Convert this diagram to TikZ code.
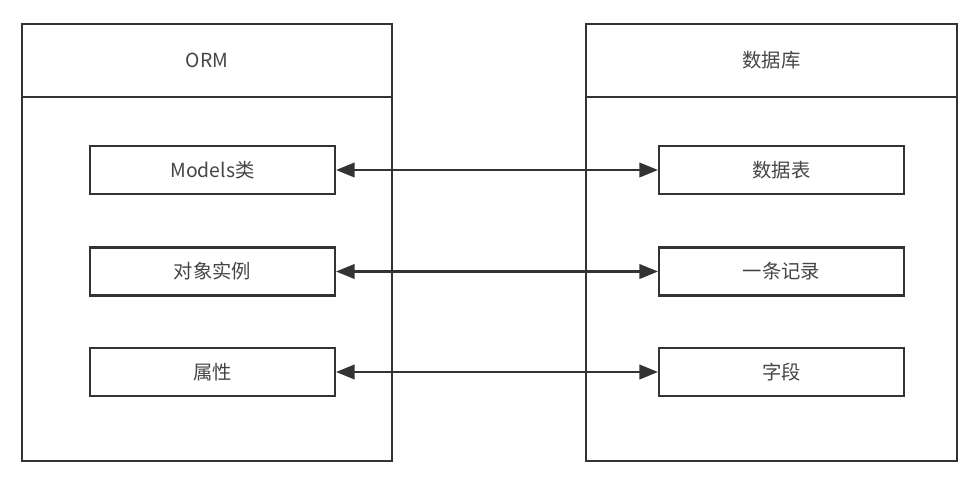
\documentclass[tikz,border=0pt]{standalone}
\usepackage{fontspec}
\setmainfont{Noto Sans CJK SC}
\usetikzlibrary{arrows.meta}
\definecolor{ln}{HTML}{333333}
\definecolor{tx}{HTML}{454545}
\begin{document}
\begin{tikzpicture}[x=0.75pt,y=-0.75pt,
  frame/.style={draw=ln,line width=1.6pt},
  item/.style={draw=ln,line width=1.6pt,minimum width=245*0.75pt,minimum height=48*0.75pt,inner sep=0pt,text=tx,font=\fontsize{14.5pt}{16pt}\selectfont},
  title/.style={text=tx,font=\fontsize{14.5pt}{16pt}\selectfont},
  link/.style={draw=ln,line width=1.6pt,{Triangle[length=14pt,width=11pt]}-{Triangle[length=14pt,width=11pt]}}]
\useasboundingbox[fill=white] (0,0) rectangle (980,478);
% left frame
\draw[frame] (22,24) rectangle (392,461);
\draw[frame] (22,97) -- (392,97);
\node[title] (orm) at (207,60.5) {ORM};
% right frame
\draw[frame] (586,24) rectangle (957,461);
\draw[frame] (586,97) -- (957,97);
\node[title] (db) at (771.5,60.5) {数据库};
% items
\node[item] (a1) at (212.5,170) {Models类};
\node[item] (a2) at (212.5,271.5) {对象实例};
\node[item] (a3) at (212.5,372) {属性};
\node[item] (b1) at (781.5,170) {数据表};
\node[item] (b2) at (781.5,271.5) {一条记录};
\node[item] (b3) at (781.5,372) {字段};
% links
\draw[link] (a1.east) -- (b1.west);
\draw[link] (a2.east) -- (b2.west);
\draw[link] (a3.east) -- (b3.west);
\end{tikzpicture}
\end{document}
